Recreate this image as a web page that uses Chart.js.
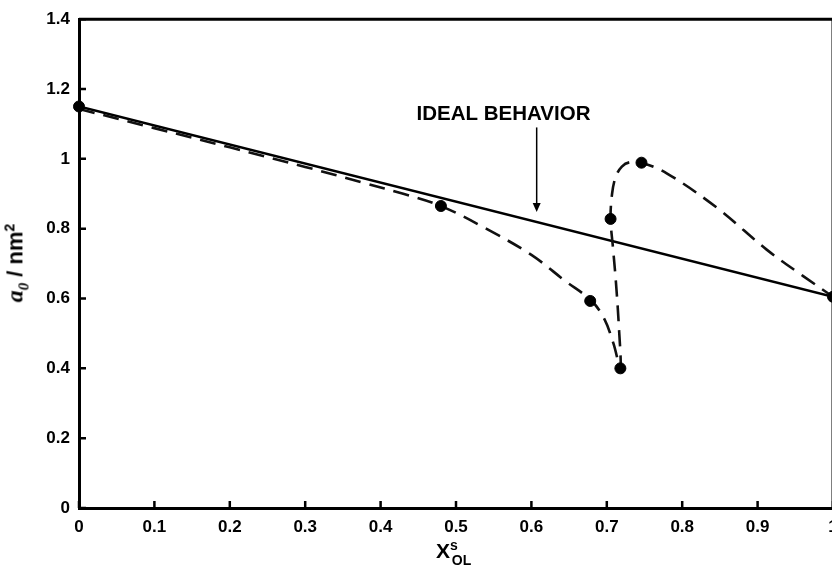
<!DOCTYPE html>
<html>
<head>
<meta charset="utf-8">
<script src="https://cdn.jsdelivr.net/npm/chart.js@4"></script>
<style>
  html, body { margin: 0; padding: 0; background: #fff; overflow: hidden; }
  #wrap { position: relative; width: 850px; height: 565px; }
  .axis-title { position: absolute; font: bold 20px Arial, "Liberation Sans", sans-serif; color: #000; white-space: nowrap; }
  #yTitle { left: 17px; top: 263px; font-size: 22px; transform: translate(-50%, -50%) rotate(-90deg); }
  #yTitle i { font-family: "Liberation Serif", "Times New Roman", serif; font-weight: bold; font-size: 24px; }
  #yTitle sub { font-size: 15px; }
  #yTitle sup { font-size: 14px; }
  #xTitle { left: 436px; top: 537px; font-size: 21px; }
  #xTitle sup { font-size: 14px; vertical-align: 8px; }
  #xTitle sub { font-size: 14px; vertical-align: -7px; margin-left: -6px; }
</style>
</head>
<body>
<div id="wrap">
  <canvas id="chart" width="850" height="565"></canvas>
  <div class="axis-title" id="yTitle"><i>a<sub>0</sub></i> / nm<sup>2</sup></div>
  <div class="axis-title" id="xTitle">X<sup>s</sup><sub>OL</sub></div>
</div>
<script>
// tick values and labels
const xTickValues = [0, 0.1, 0.2, 0.3, 0.4, 0.5, 0.6, 0.7, 0.8, 0.9, 1];
const xTickLabels = ['0', '0.1', '0.2', '0.3', '0.4', '0.5', '0.6', '0.7', '0.8', '0.9', '1'];
const yTickValues = [0, 0.2, 0.4, 0.6, 0.8, 1, 1.2, 1.4];
const yTickLabels = ['0', '0.2', '0.4', '0.6', '0.8', '1', '1.2', '1.4'];

// ideal behavior (straight line between the pure components)
const idealX = [0, 1];
const idealY = [1.15, 0.605];

// dashed curve
const curveX = [0, 0.1, 0.2, 0.3, 0.38, 0.43, 0.48, 0.54, 0.6, 0.645, 0.68, 0.697, 0.709, 0.718,
                0.716, 0.712, 0.708, 0.705, 0.707, 0.712, 0.72, 0.73, 0.746, 0.78, 0.846, 0.912, 0.96, 1];
const curveY = [1.143, 1.088, 1.033, 0.977, 0.93, 0.9, 0.865, 0.8, 0.725, 0.65, 0.593, 0.54, 0.47, 0.4,
                0.52, 0.65, 0.75, 0.828, 0.9, 0.95, 0.978, 0.99, 0.989, 0.958, 0.86, 0.74, 0.665, 0.605];

// measured points
const markerX = [0, 0.48, 0.678, 0.718, 0.705, 0.746, 1];
const markerY = [1.15, 0.865, 0.593, 0.4, 0.828, 0.989, 0.605];

const annotationText = 'IDEAL BEHAVIOR';
const annotationAt = { x: 0.563, y: 1.11 };
const arrowFrom = { x: 0.607, y: 1.09 };
const arrowTo = { x: 0.607, y: 0.848 };

const FONT = 'Arial, "Liberation Sans", sans-serif';

function toPoints(xs, ys) {
  return xs.map((x, i) => ({ x, y: ys[i] }));
}

const framePlugin = {
  id: 'frame',
  afterDraw(chart) {
    const { ctx, chartArea: a, scales } = chart;
    ctx.save();
    ctx.strokeStyle = '#000';
    ctx.lineWidth = 3;
    ctx.beginPath();
    ctx.moveTo(a.left, a.top);
    ctx.lineTo(a.right, a.top);
    ctx.lineTo(a.right, a.bottom);
    ctx.stroke();

    // inward ticks
    ctx.lineWidth = 2.5;
    ctx.beginPath();
    xTickValues.forEach(v => {
      const px = scales.x.getPixelForValue(v);
      ctx.moveTo(px, a.bottom);
      ctx.lineTo(px, a.bottom - 7);
    });
    yTickValues.forEach(v => {
      const py = scales.y.getPixelForValue(v);
      ctx.moveTo(a.left, py);
      ctx.lineTo(a.left + 7, py);
    });
    ctx.stroke();

    // annotation with arrow
    ctx.fillStyle = '#000';
    ctx.font = 'bold 20.5px ' + FONT;
    ctx.textAlign = 'center';
    ctx.textBaseline = 'alphabetic';
    ctx.fillText(annotationText, scales.x.getPixelForValue(annotationAt.x), scales.y.getPixelForValue(annotationAt.y));

    const ax = scales.x.getPixelForValue(arrowFrom.x);
    const ay0 = scales.y.getPixelForValue(arrowFrom.y);
    const ay1 = scales.y.getPixelForValue(arrowTo.y);
    ctx.lineWidth = 1.5;
    ctx.beginPath();
    ctx.moveTo(ax, ay0);
    ctx.lineTo(ax, ay1 - 6);
    ctx.stroke();
    ctx.beginPath();
    ctx.moveTo(ax, ay1);
    ctx.lineTo(ax - 4, ay1 - 9);
    ctx.lineTo(ax + 4, ay1 - 9);
    ctx.closePath();
    ctx.fill();
    ctx.restore();
  }
};

const ctx = document.getElementById('chart').getContext('2d');
new Chart(ctx, {
  type: 'scatter',
  data: {
    datasets: [
      {
        label: 'data',
        data: toPoints(markerX, markerY),
        pointRadius: 5.5,
        pointBackgroundColor: '#000',
        pointBorderColor: '#000',
        showLine: false,
        clip: false
      },
      {
        label: 'curve',
        data: toPoints(curveX, curveY),
        showLine: true,
        borderColor: '#111',
        borderWidth: 2.6,
        borderDash: [16, 9],
        tension: 0.35,
        pointRadius: 0
      },
      {
        label: 'ideal',
        data: toPoints(idealX, idealY),
        showLine: true,
        borderColor: '#000',
        borderWidth: 2.5,
        pointRadius: 0
      }
    ]
  },
  options: {
    responsive: false,
    animation: false,
    layout: { padding: { top: 19, right: 17, left: 0, bottom: 0 } },
    plugins: {
      legend: { display: false },
      tooltip: { enabled: false }
    },
    scales: {
      x: {
        type: 'linear',
        min: 0,
        max: 1,
        afterBuildTicks: s => { s.ticks = xTickValues.map(v => ({ value: v })); },
        afterFit: s => { s.height = 57; },
        ticks: {
          autoSkip: false,
          maxRotation: 0,
          padding: 9,
          color: '#000',
          font: { family: FONT, size: 17, weight: 'bold' },
          callback: (v, i) => xTickLabels[i]
        },
        grid: { drawOnChartArea: false, drawTicks: false },
        border: { display: true, color: '#000', width: 3 }
      },
      y: {
        type: 'linear',
        min: 0,
        max: 1.4,
        afterBuildTicks: s => { s.ticks = yTickValues.map(v => ({ value: v })); },
        afterFit: s => { s.width = 79; },
        ticks: {
          autoSkip: false,
          padding: 9,
          color: '#000',
          font: { family: FONT, size: 17, weight: 'bold' },
          callback: (v, i) => yTickLabels[i]
        },
        grid: { drawOnChartArea: false, drawTicks: false },
        border: { display: true, color: '#000', width: 3 }
      }
    }
  },
  plugins: [framePlugin]
});
</script>
</body>
</html>
